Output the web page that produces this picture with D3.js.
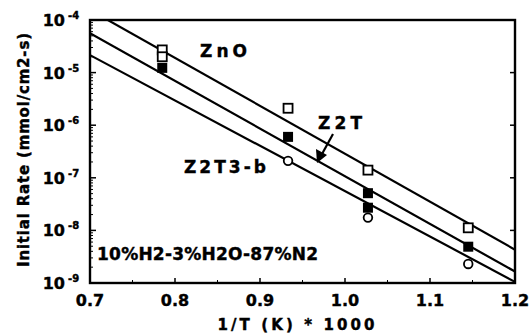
<!DOCTYPE html>
<meta charset="utf-8">
<style>
body { margin: 0; background: #fff; }
text { font-family: "DejaVu Sans", "Liberation Sans", sans-serif; font-weight: bold; fill: #000; stroke: #000; stroke-width: 0.4px; }
</style>
<body>
<svg width="532" height="334"></svg>
<script src="https://cdn.jsdelivr.net/npm/d3@7"></script>
<script>
// data (x = 1000/T, y = initial rate)
var znoPts = [[0.785, 2.7e-5], [0.785, 2.0e-5], [0.933, 2.1e-6], [1.027, 1.4e-7], [1.145, 1.12e-8]];
var z2tPts = [[0.785, 1.23e-5], [0.933, 6.0e-7], [1.027, 5.1e-8], [1.027, 2.7e-8], [1.145, 4.9e-9]];
var z2t3Pts = [[0.933, 2.1e-7], [1.027, 1.75e-8], [1.145, 2.3e-9]];
// fitted lines, end points
var znoFit = [[0.7, 1.55e-4], [1.2, 4.3e-9]];
var z2tFit = [[0.7, 5.6e-5], [1.2, 1.65e-9]];
var z2t3Fit = [[0.7, 2.15e-5], [1.2, 1.05e-9]];
var xTicks = [0.7, 0.8, 0.9, 1.0, 1.1, 1.2];
var yTicks = [1e-9, 1e-8, 1e-7, 1e-6, 1e-5, 1e-4];

var svg = d3.select("svg"),
    margin = {top: 20, right: 17, bottom: 51, left: 90},
    width = 532 - margin.left - margin.right,
    height = 334 - margin.top - margin.bottom,
    g = svg.append("g").attr("transform", "translate(" + margin.left + "," + margin.top + ")");

var x = d3.scaleLinear().domain([0.7, 1.2]).range([0, width]),
    y = d3.scaleLog().domain([1e-9, 1e-4]).range([height, 0]);

svg.append("clipPath").attr("id", "clip")
  .append("rect").attr("width", width).attr("height", height);

// minor ticks on y (inside)
var minor = [];
for (var e = -9; e < -4; e++) for (var k = 2; k <= 9; k++) minor.push(k * Math.pow(10, e));

g.selectAll(".ymin").data(minor).enter().append("line")
    .attr("x1", 0).attr("x2", 3)
    .attr("y1", function(d) { return y(d); }).attr("y2", function(d) { return y(d); })
    .attr("stroke", "#000").attr("stroke-width", 1);
g.selectAll(".ymaj").data(yTicks).enter().append("line")
    .attr("x1", 0).attr("x2", 6)
    .attr("y1", function(d) { return y(d); }).attr("y2", function(d) { return y(d); })
    .attr("stroke", "#000").attr("stroke-width", 1.5);
g.selectAll(".ymajr").data(yTicks).enter().append("line")
    .attr("x1", width).attr("x2", width - 5)
    .attr("y1", function(d) { return y(d); }).attr("y2", function(d) { return y(d); })
    .attr("stroke", "#000").attr("stroke-width", 1.5);

var xMinor = d3.range(0.75, 1.2, 0.1);
g.selectAll(".xmaj").data(xTicks).enter().append("line")
    .attr("x1", function(d) { return x(d); }).attr("x2", function(d) { return x(d); })
    .attr("y1", height).attr("y2", height - 5)
    .attr("stroke", "#000").attr("stroke-width", 1.5);
g.selectAll(".xmin").data(xMinor).enter().append("line")
    .attr("x1", function(d) { return x(d); }).attr("x2", function(d) { return x(d); })
    .attr("y1", height).attr("y2", height - 3)
    .attr("stroke", "#000").attr("stroke-width", 1);

// frame
g.append("rect").attr("width", width).attr("height", height)
    .attr("fill", "none").attr("stroke", "#000").attr("stroke-width", 2.4);

// tick labels
g.selectAll(".xl").data(xTicks).enter().append("text")
    .attr("x", function(d) { return x(d); })
    .attr("y", height + 23)
    .attr("text-anchor", "middle")
    .style("font-size", "16px")
    .text(function(d) { return d3.format(".1f")(d); });

g.selectAll(".yl").data(yTicks).enter().append("text")
    .attr("x", -25)
    .attr("y", function(d) { return y(d) + 6; })
    .attr("text-anchor", "end")
    .style("font-size", "16px")
    .text("10");
g.selectAll(".ye").data(yTicks).enter().append("text")
    .attr("x", -22)
    .attr("y", function(d) { return y(d) - 1; })
    .style("font-size", "10px")
    .text(function(d) { return "-" + Math.round(-Math.log10(d)); });

// axis titles
svg.append("text")
    .attr("x", 296).attr("y", 330)
    .attr("text-anchor", "middle")
    .style("font-size", "15px")
    .attr("textLength", 157).attr("lengthAdjust", "spacing")
    .text("1/T (K) * 1000");
svg.append("text")
    .attr("transform", "translate(29,150) rotate(-90)")
    .attr("text-anchor", "middle")
    .style("font-size", "15px")
    .attr("textLength", 234).attr("lengthAdjust", "spacing")
    .text("Initial Rate (mmol/cm2-s)");

// fit lines
var line = d3.line().x(function(d) { return x(d[0]); }).y(function(d) { return y(d[1]); });
g.append("g").attr("clip-path", "url(#clip)")
  .selectAll("path").data([znoFit, z2tFit, z2t3Fit]).enter().append("path")
    .attr("d", line)
    .attr("fill", "none").attr("stroke", "#000").attr("stroke-width", 2.2);

// markers
var s = 9;
g.selectAll(".zno").data(znoPts).enter().append("rect")
    .attr("x", function(d) { return x(d[0]) - s / 2; })
    .attr("y", function(d) { return y(d[1]) - s / 2; })
    .attr("width", s).attr("height", s)
    .attr("fill", "#fff").attr("stroke", "#000").attr("stroke-width", 1.8);
g.selectAll(".z2t").data(z2tPts).enter().append("rect")
    .attr("x", function(d) { return x(d[0]) - s / 2 - 0.5; })
    .attr("y", function(d) { return y(d[1]) - s / 2 - 0.5; })
    .attr("width", s + 1).attr("height", s + 1)
    .attr("fill", "#000");
g.selectAll(".z2t3").data(z2t3Pts).enter().append("circle")
    .attr("cx", function(d) { return x(d[0]); })
    .attr("cy", function(d) { return y(d[1]); })
    .attr("r", 4.3)
    .attr("fill", "#fff").attr("stroke", "#000").attr("stroke-width", 1.8);

// labels
function label(t, px, py, len) {
  svg.append("text").attr("x", px).attr("y", py)
    .style("font-size", "17px")
    .attr("textLength", len).attr("lengthAdjust", "spacing")
    .text(t);
}
label("ZnO", 200, 57, 47);
label("Z2T", 318, 129, 44);
label("Z2T3-b", 184, 173, 82);
label("10%H2-3%H2O-87%N2", 97, 260, 221);

// arrow to Z2T line
svg.append("line")
    .attr("x1", 333).attr("y1", 134).attr("x2", 322).attr("y2", 154)
    .attr("stroke", "#000").attr("stroke-width", 2.2);
svg.append("path")
    .attr("d", "M317,163 L316,149 L327,155 Z")
    .attr("fill", "#000");
</script>
</body>
